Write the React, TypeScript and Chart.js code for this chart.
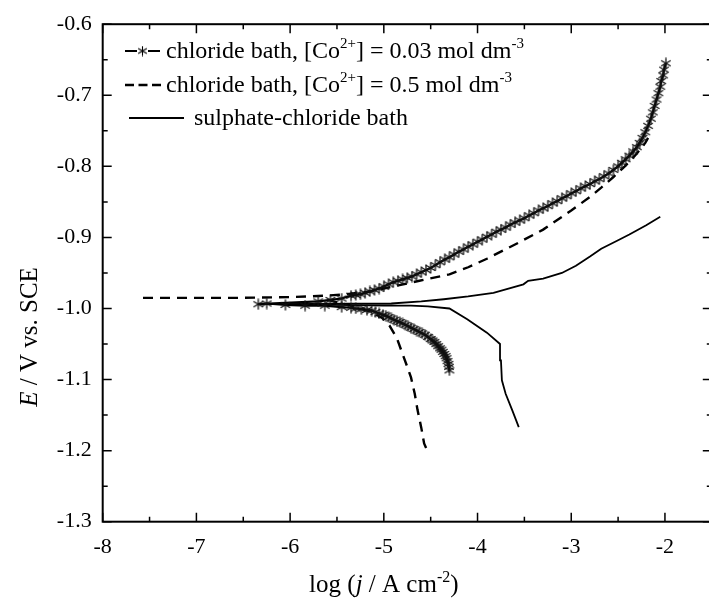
import React, { useEffect, useRef } from "react";
import { Chart, registerables } from "chart.js";
Chart.register(...registerables);

// ---------- axes ----------
const xMin = -8;
const xMax = -1.5;
const yMin = -1.3;
const yMax = -0.6;
const xTickValues = [-8, -7, -6, -5, -4, -3, -2];
const yTickValues = [-1.3, -1.2, -1.1, -1.0, -0.9, -0.8, -0.7, -0.6];

// ---------- legend labels ----------
const seriesNames = [
  "chloride bath, [Co2+] = 0.03 mol dm-3",
  "chloride bath, [Co2+] = 0.5 mol dm-3",
  "sulphate-chloride bath",
];

// ---------- series 1: chloride bath, 0.03 mol dm-3 (stars) ----------
const co003X = [
  -4.30, -4.305, -4.31, -4.32, -4.33, -4.34, -4.355, -4.37, -4.385, -4.40, -4.42, -4.44, -4.46, -4.48,
  -4.50, -4.53, -4.56, -4.59, -4.62, -4.65, -4.68, -4.71, -4.74, -4.77, -4.80, -4.83, -4.86, -4.89,
  -4.92, -4.95, -4.98, -5.01, -5.05, -5.09, -5.13, -5.18, -5.24, -5.30, -5.35, -5.45, -5.63, -5.84,
  -6.05, -6.25, -6.34,
  -5.70, -5.57, -5.45, -5.35, -5.30, -5.25, -5.20, -5.15, -5.10, -5.05, -5.00, -4.95, -4.90, -4.85,
  -4.80, -4.75, -4.70, -4.65, -4.60, -4.55, -4.50, -4.45, -4.40, -4.35, -4.30, -4.25, -4.20, -4.15,
  -4.10, -4.05, -4.00, -3.95, -3.90, -3.85, -3.80, -3.75, -3.70, -3.65, -3.60, -3.55, -3.50, -3.45,
  -3.40, -3.35, -3.30, -3.25, -3.20, -3.15, -3.10, -3.05, -3.00, -2.95, -2.90, -2.85, -2.80, -2.75,
  -2.70, -2.65, -2.60, -2.55, -2.50, -2.46, -2.42, -2.38, -2.34, -2.30, -2.27, -2.24, -2.21, -2.18,
  -2.15, -2.13, -2.11, -2.09, -2.07, -2.05, -2.04, -2.02, -2.01, -1.99,
];
const co003Y = [
  -1.087, -1.082, -1.078, -1.074, -1.070, -1.067, -1.064, -1.061, -1.058, -1.056, -1.053, -1.050, -1.047, -1.045,
  -1.043, -1.040, -1.037, -1.035, -1.033, -1.031, -1.029, -1.027, -1.025, -1.023, -1.021, -1.019, -1.018, -1.016,
  -1.014, -1.012, -1.010, -1.009, -1.007, -1.005, -1.003, -1.002, -1.001, -1.000, -0.999, -0.998, -0.996, -0.996,
  -0.995, -0.993, -0.994,
  -0.990, -0.988, -0.986, -0.982, -0.981, -0.980, -0.978, -0.976, -0.974, -0.972, -0.969, -0.966, -0.963, -0.961,
  -0.959, -0.957, -0.955, -0.952, -0.949, -0.946, -0.943, -0.939, -0.935, -0.931, -0.928, -0.924, -0.920, -0.917,
  -0.913, -0.910, -0.906, -0.903, -0.899, -0.896, -0.892, -0.889, -0.886, -0.882, -0.879, -0.876, -0.873, -0.869,
  -0.866, -0.862, -0.859, -0.856, -0.852, -0.849, -0.845, -0.842, -0.838, -0.835, -0.831, -0.828, -0.825, -0.821,
  -0.818, -0.814, -0.810, -0.805, -0.800, -0.795, -0.790, -0.785, -0.779, -0.773, -0.767, -0.760, -0.752, -0.743,
  -0.733, -0.724, -0.715, -0.706, -0.697, -0.688, -0.680, -0.672, -0.664, -0.655,
];

// ---------- series 2: chloride bath, 0.5 mol dm-3 (dashed) ----------
const co05AnodicX = [
  -7.57, -7.00, -6.50, -6.00, -5.63, -5.40, -5.14, -4.90, -4.62, -4.30, -4.10, -3.90, -3.60, -3.30,
  -3.00, -2.80, -2.68, -2.55, -2.42, -2.30, -2.21, -2.18,
];
const co05AnodicY = [
  -0.985, -0.985, -0.985, -0.984, -0.982, -0.980, -0.976, -0.969, -0.961, -0.952, -0.942, -0.930, -0.910, -0.889,
  -0.862, -0.843, -0.830, -0.815, -0.799, -0.782, -0.767, -0.760,
];
const co05CathodicX = [
  -5.60, -5.38, -5.15, -5.02, -4.94, -4.86, -4.80, -4.75, -4.71, -4.67, -4.64, -4.60, -4.57, -4.54,
];
const co05CathodicY = [
  -0.988, -0.995, -1.004, -1.013, -1.024, -1.042, -1.064, -1.082, -1.097, -1.120, -1.143, -1.168, -1.190, -1.199,
];

// ---------- series 3: sulphate-chloride bath (solid) ----------
const sulphX = [
  -3.56, -3.63, -3.70, -3.74, -3.75, -3.76, -3.90, -4.11, -4.30, -4.53, -4.71, -5.00, -5.50, -6.00, -6.30,
  -4.92, -4.60, -4.36, -4.10, -3.83, -3.51, -3.46, -3.30, -3.10, -2.95, -2.80, -2.68, -2.50, -2.38, -2.20, -2.05,
];
const sulphY = [
  -1.167, -1.143, -1.120, -1.101, -1.073, -1.050, -1.034, -1.015, -1.000, -0.997, -0.996, -0.996, -0.995, -0.994, -0.994,
  -0.993, -0.990, -0.987, -0.983, -0.978, -0.966, -0.961, -0.958, -0.950, -0.940, -0.927, -0.916, -0.904, -0.896, -0.883, -0.871,
];

const FAM = '"Liberation Serif", "Times New Roman", serif';

type Seg = { t: string; it?: boolean; sup?: boolean };

function parseLabel(s: string): Seg[] {
  const out: Seg[] = [];
  const re = /(Co)(2\+)|(dm)(-3)/g;
  let last = 0;
  let m: RegExpExecArray | null;
  while ((m = re.exec(s))) {
    const base = m[1] || m[3];
    const sup = m[2] || m[4];
    out.push({ t: s.slice(last, m.index) + base });
    out.push({ t: sup, sup: true });
    last = m.index + m[0].length;
  }
  if (last < s.length) out.push({ t: s.slice(last) });
  return out;
}

function drawRich(
  ctx: CanvasRenderingContext2D,
  segs: Seg[],
  x: number,
  y: number,
  size: number,
  align: "left" | "center"
) {
  const fontFor = (s: Seg) =>
    `${s.it ? "italic " : ""}${s.sup ? Math.round(size * 0.62) : size}px ${FAM}`;
  let total = 0;
  for (const s of segs) {
    ctx.font = fontFor(s);
    total += ctx.measureText(s.t).width;
  }
  let cx = align === "center" ? x - total / 2 : x;
  ctx.textAlign = "left";
  ctx.textBaseline = "alphabetic";
  ctx.fillStyle = "#000";
  for (const s of segs) {
    ctx.font = fontFor(s);
    ctx.fillText(s.t, cx, s.sup ? y - size * 0.4 : y);
    cx += ctx.measureText(s.t).width;
  }
}

function makeStar(size: number, color: string, lw: number) {
  const c = document.createElement("canvas");
  c.width = size;
  c.height = size;
  const g = c.getContext("2d")!;
  g.strokeStyle = color;
  g.lineWidth = lw;
  const r = size / 2 - 0.5;
  const m = size / 2;
  for (let k = 0; k < 3; k++) {
    const a = Math.PI / 2 + (k * Math.PI) / 3;
    g.beginPath();
    g.moveTo(m + r * Math.cos(a), m + r * Math.sin(a));
    g.lineTo(m - r * Math.cos(a), m - r * Math.sin(a));
    g.stroke();
  }
  return c;
}

const zip = (xs: number[], ys: number[]) => xs.map((x, i) => ({ x, y: ys[i] }));

export default function App() {
  const ref = useRef<HTMLCanvasElement | null>(null);

  useEffect(() => {
    const canvas = ref.current;
    if (!canvas) return;
    const star = makeStar(12, "#111", 1.3);
    const legendStar = makeStar(11, "#000", 1.1);

    const framePlugin = {
      id: "frameAndText",
      afterDraw(chart: any) {
        const ctx: CanvasRenderingContext2D = chart.ctx;
        const { left, right, top, bottom } = chart.chartArea;
        const xs = chart.scales.x;
        const ys = chart.scales.y;
        ctx.save();
        ctx.strokeStyle = "#000";
        ctx.lineWidth = 2;
        ctx.strokeRect(left, top, right - left, bottom - top);
        ctx.lineWidth = 1.5;
        const majL = 9;
        const minL = 5;
        ctx.beginPath();
        for (const v of xTickValues) {
          const p = xs.getPixelForValue(v);
          ctx.moveTo(p, bottom); ctx.lineTo(p, bottom - majL);
          ctx.moveTo(p, top); ctx.lineTo(p, top + majL);
          const pm = xs.getPixelForValue(v + 0.5);
          ctx.moveTo(pm, bottom); ctx.lineTo(pm, bottom - minL);
          ctx.moveTo(pm, top); ctx.lineTo(pm, top + minL);
        }
        for (const v of yTickValues) {
          const p = ys.getPixelForValue(v);
          ctx.moveTo(left, p); ctx.lineTo(left + majL, p);
          ctx.moveTo(right, p); ctx.lineTo(right - majL, p);
          if (v < yMax - 0.01) {
            const pm = ys.getPixelForValue(v + 0.05);
            ctx.moveTo(left, pm); ctx.lineTo(left + minL, pm);
            ctx.moveTo(right, pm); ctx.lineTo(right - minL, pm);
          }
        }
        ctx.stroke();

        // axis titles
        drawRich(
          ctx,
          [{ t: "log (" }, { t: "j", it: true }, { t: " / A cm" }, { t: "-2", sup: true }, { t: ")" }],
          xs.getPixelForValue(-5),
          592,
          25,
          "center"
        );
        ctx.save();
        ctx.translate(37, ys.getPixelForValue(-1.04));
        ctx.rotate(-Math.PI / 2);
        drawRich(ctx, [{ t: "E", it: true }, { t: " / V vs. SCE" }], 0, 0, 25, "center");
        ctx.restore();

        // legend
        const rows = [58, 92, 125];
        const off = 7;
        ctx.strokeStyle = "#000";
        ctx.lineWidth = 2;
        ctx.beginPath();
        ctx.moveTo(125, rows[0] - off); ctx.lineTo(137, rows[0] - off);
        ctx.moveTo(148, rows[0] - off); ctx.lineTo(160, rows[0] - off);
        ctx.stroke();
        ctx.drawImage(legendStar, 137, rows[0] - off - 5.5);
        drawRich(ctx, parseLabel(seriesNames[0]), 166, rows[0], 24, "left");
        ctx.lineWidth = 2.6;
        ctx.beginPath();
        ctx.moveTo(125, rows[1] - off); ctx.lineTo(134, rows[1] - off);
        ctx.moveTo(138.5, rows[1] - off); ctx.lineTo(147.5, rows[1] - off);
        ctx.moveTo(152, rows[1] - off); ctx.lineTo(161, rows[1] - off);
        ctx.stroke();
        drawRich(ctx, parseLabel(seriesNames[1]), 166, rows[1], 24, "left");
        ctx.lineWidth = 2;
        ctx.beginPath();
        ctx.moveTo(129, rows[2] - off); ctx.lineTo(184, rows[2] - off);
        ctx.stroke();
        drawRich(ctx, parseLabel(seriesNames[2]), 194, rows[2], 24, "left");
        ctx.restore();
      },
    };

    const chart = new Chart(canvas, {
      type: "line",
      data: {
        datasets: [
          {
            label: seriesNames[0],
            data: zip(co003X, co003Y),
            borderColor: "#000",
            borderWidth: 2.2,
            pointStyle: star as any,
            pointRadius: 6,
            showLine: true,
            order: 1,
          },
          {
            label: seriesNames[1],
            data: [
              ...zip(co05AnodicX, co05AnodicY),
              { x: -5.6, y: null as any },
              ...zip(co05CathodicX, co05CathodicY),
            ],
            borderColor: "#000",
            borderWidth: 2.4,
            borderDash: [10, 7],
            pointRadius: 0,
            spanGaps: false,
            order: 2,
          },
          {
            label: seriesNames[2],
            data: zip(sulphX, sulphY),
            borderColor: "#000",
            borderWidth: 1.8,
            pointRadius: 0,
            order: 3,
          },
        ],
      },
      options: {
        animation: false,
        responsive: false,
        maintainAspectRatio: false,
        layout: { padding: { top: 22, right: 3.5, left: 0, bottom: 0 } },
        plugins: { legend: { display: false }, tooltip: { enabled: false } },
        elements: { line: { tension: 0 } },
        scales: {
          x: {
            type: "linear",
            min: xMin,
            max: xMax,
            grid: { display: false, drawTicks: false },
            border: { display: false },
            afterBuildTicks: (s: any) => {
              s.ticks = xTickValues.map((v) => ({ value: v }));
            },
            afterFit: (s: any) => {
              s.height = 79.3;
            },
            ticks: {
              color: "#000",
              font: { family: FAM, size: 22 },
              padding: 12,
              maxRotation: 0,
              autoSkip: false,
              callback: (v: any) => String(v),
            },
          },
          y: {
            type: "linear",
            min: yMin,
            max: yMax,
            grid: { display: false, drawTicks: false },
            border: { display: false },
            afterBuildTicks: (s: any) => {
              s.ticks = yTickValues.map((v) => ({ value: v }));
            },
            afterFit: (s: any) => {
              s.width = 102.7;
            },
            ticks: {
              color: "#000",
              font: { family: FAM, size: 22 },
              padding: 11,
              autoSkip: false,
              callback: (v: any) => Number(v).toFixed(1),
            },
          },
        },
      },
      plugins: [framePlugin],
    });
    return () => chart.destroy();
  }, []);

  return (
    <div
      style={{
        position: "fixed",
        left: 0,
        top: 0,
        width: 709,
        height: 601,
        overflow: "hidden",
        background: "#fff",
      }}
    >
      <canvas ref={ref} width={720} height={601} style={{ width: 720, height: 601, display: "block" }} />
    </div>
  );
}
